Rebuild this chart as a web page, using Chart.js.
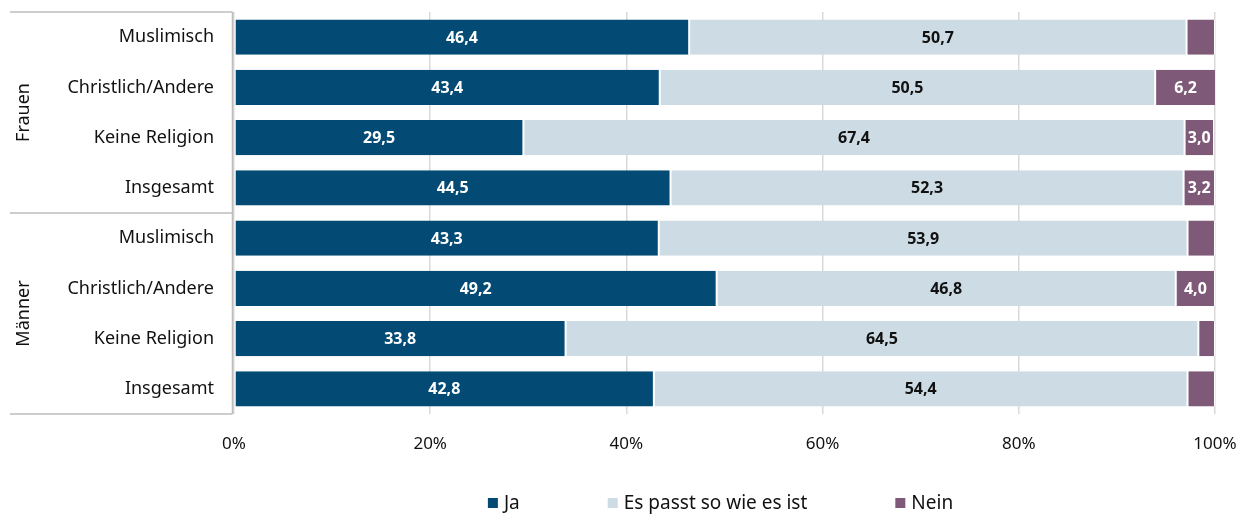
<!DOCTYPE html>
<html>
<head>
<meta charset="utf-8">
<script src="https://cdn.jsdelivr.net/npm/chart.js@4"></script>
<style>
html,body{margin:0;padding:0;background:#fff;}
#wrap{width:1254px;height:514px;position:relative;}
</style>
</head>
<body>
<div id="wrap"><canvas id="c" width="1254" height="514"></canvas></div>
<script>
const categories = ["Muslimisch","Christlich/Andere","Keine Religion","Insgesamt","Muslimisch","Christlich/Andere","Keine Religion","Insgesamt"];
const groups = ["Frauen","Männer"];
const groupSize = 4;
const seriesNames = ["Ja","Es passt so wie es ist","Nein"];
const ja    = [46.4,43.4,29.5,44.5,43.3,49.2,33.8,42.8];
const passt = [50.7,50.5,67.4,52.3,53.9,46.8,64.5,54.4];
const nein  = [2.9,6.2,3.0,3.2,2.8,4.0,1.7,2.8];
const xTicks = [0,20,40,60,80,100];

const FONT = "'Noto Sans', 'Open Sans', sans-serif";
const colors = ["#034b75","#cddce4","#7f5a78"];
const labelColors = ["#ffffff","#111111","#ffffff"];

const valueLabels = {
  id:'valueLabels',
  afterDatasetsDraw(chart){
    const ctx = chart.ctx;
    ctx.save();
    ctx.font = "bold 16px " + FONT;
    ctx.textAlign = "center";
    ctx.textBaseline = "middle";
    chart.data.datasets.forEach((ds, di) => {
      const meta = chart.getDatasetMeta(di);
      meta.data.forEach((bar, i) => {
        const v = ds.data[i];
        if (v < 3) return;
        const p = bar.getProps(['x','y','base'], true);
        ctx.fillStyle = labelColors[di];
        ctx.fillText(v.toFixed(1).replace('.', ','), (p.x + p.base)/2, p.y + 1);
      });
    });
    ctx.restore();
  }
};

const groupAxis = {
  id:'groupAxis',
  afterDraw(chart){
    const ctx = chart.ctx;
    const y = chart.scales.y;
    const area = chart.chartArea;
    ctx.save();
    ctx.strokeStyle = "#bdbdbd";
    ctx.lineWidth = 1.5;
    const step = (y.getPixelForValue(1) - y.getPixelForValue(0));
    const lineX = area.left - 1.5;
    ctx.beginPath();
    ctx.moveTo(lineX, area.top);
    ctx.lineTo(lineX, area.bottom);
    ctx.stroke();
    for (let g = 0; g <= groups.length; g++) {
      const py = y.getPixelForValue(g*groupSize) - step/2;
      ctx.beginPath();
      ctx.moveTo(10, py);
      ctx.lineTo(lineX, py);
      ctx.stroke();
    }
    ctx.font = "18px " + FONT;
    ctx.fillStyle = "#111";
    ctx.textAlign = "center";
    ctx.textBaseline = "middle";
    groups.forEach((g, gi) => {
      const y0 = y.getPixelForValue(gi*groupSize) - step/2;
      const y1 = y.getPixelForValue((gi+1)*groupSize) - step/2;
      ctx.save();
      ctx.translate(24, (y0+y1)/2);
      ctx.rotate(-Math.PI/2);
      ctx.fillText(g, 0, 0);
      ctx.restore();
    });
    // legend
    ctx.font = "19px " + FONT;
    ctx.textAlign = "left";
    const gap = 88, box = 10, txtOff = 6;
    const widths = seriesNames.map(n => box + txtOff + ctx.measureText(n).width);
    const total = widths.reduce((a,b)=>a+b,0) + gap*(seriesNames.length-1);
    let lx = (area.left + area.right)/2 - total/2 - 4;
    const ly = 503;
    seriesNames.forEach((n, i) => {
      ctx.fillStyle = colors[i];
      ctx.fillRect(lx, ly - box/2, box, box);
      ctx.fillStyle = "#111";
      ctx.fillText(n, lx + box + txtOff, ly + 1);
      lx += widths[i] + gap;
    });
    ctx.restore();
  }
};

new Chart(document.getElementById('c'), {
  type: 'bar',
  data: {
    labels: categories,
    datasets: [ja, passt, nein].map((d, i) => ({
      label: seriesNames[i],
      data: d,
      backgroundColor: colors[i],
      borderColor: "#ffffff",
      borderWidth: {left:1, right:1, top:0, bottom:0},
      borderSkipped: false,
      barPercentage: 0.7,
      categoryPercentage: 1.0
    }))
  },
  options: {
    indexAxis: 'y',
    responsive: false,
    animation: false,
    layout: { padding: { top: 12, right: 39, left: 0, bottom: 42 } },
    scales: {
      x: {
        stacked: true,
        min: 0, max: 100,
        afterBuildTicks(s){ s.ticks = xTicks.map(v => ({value: v})); },
        border: { display: false },
        grid: { color: "#d9d9d9", lineWidth: 1.5, drawTicks: false },
        ticks: {
          padding: 20,
          font: { family: FONT, size: 17 },
          color: "#111",
          callback: (v) => v + "%"
        },
        afterFit(s){ s.height = 58; s.paddingLeft = 0; s.paddingRight = 0; }
      },
      y: {
        stacked: true,
        border: { display: false },
        grid: { display: false, drawTicks: false },
        ticks: {
          padding: 20,
          font: { family: FONT, size: 18 },
          color: "#111"
        },
        afterFit(s){ s.width = 234; s.paddingTop = 0; s.paddingBottom = 0; }
      }
    },
    plugins: {
      legend: { display: false },
      tooltip: { enabled: false }
    }
  },
  plugins: [valueLabels, groupAxis]
});
</script>
</body>
</html>
